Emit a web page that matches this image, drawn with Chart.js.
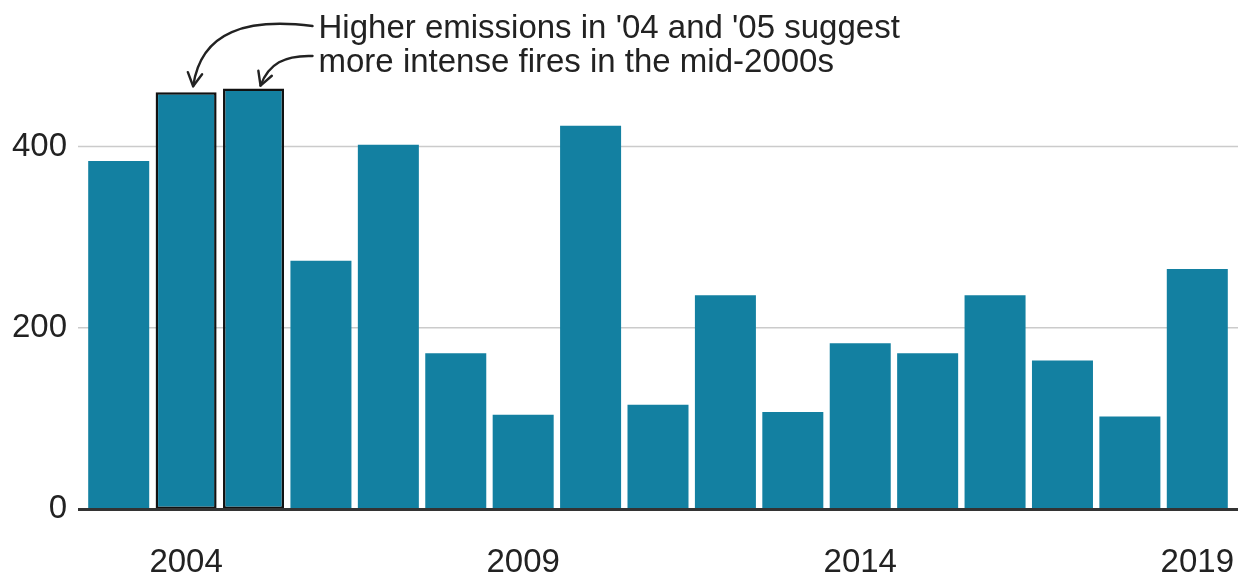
<!DOCTYPE html>
<html>
<head>
<meta charset="utf-8">
<script src="https://cdn.jsdelivr.net/npm/chart.js@4"></script>
<style>
  html, body { margin: 0; padding: 0; background: #ffffff; overflow: hidden; }
  #wrap { width: 1243px; height: 576px; position: relative; }
  canvas { display: block; }
</style>
</head>
<body>
<div id="wrap"><canvas id="chart"></canvas></div>
<script>
const years = ["2003", "2004", "2005", "2006", "2007", "2008", "2009", "2010", "2011",
  "2012", "2013", "2014", "2015", "2016", "2017", "2018", "2019"];
const emissions = [384, 460, 464, 274, 402, 172, 104, 423, 115, 236, 107, 183, 172, 236, 164, 102, 265];
const shownYears = ["2004", "2009", "2014", "2019"];
const highlighted = ["2004", "2005"];
const noteLines = ["Higher emissions in '04 and '05 suggest", "more intense fires in the mid-2000s"];

const FONT = "'Liberation Sans', Arial, Helvetica, sans-serif";
const INK = "#222222";

// gridlines a bit wider than the bars, plus the dark zero line on top
const gridPlugin = {
  id: "bbcGrid",
  beforeDatasetsDraw(chart) {
    const { ctx, chartArea, scales } = chart;
    ctx.save();
    ctx.strokeStyle = "#cbcbcb";
    ctx.lineWidth = 1.5;
    scales.y.ticks.forEach((t) => {
      if (t.value === 0) return;
      const y = scales.y.getPixelForValue(t.value);
      ctx.beginPath();
      ctx.moveTo(chartArea.left - 7, y);
      ctx.lineTo(chartArea.right + 7, y);
      ctx.stroke();
    });
    ctx.restore();
  },
  afterDatasetsDraw(chart) {
    const { ctx, chartArea, scales } = chart;
    const y0 = scales.y.getPixelForValue(0);
    ctx.save();
    ctx.strokeStyle = "#333333";
    ctx.lineWidth = 3;
    ctx.beginPath();
    ctx.moveTo(chartArea.left - 7, y0 + 0.5);
    ctx.lineTo(chartArea.right + 7, y0 + 0.5);
    ctx.stroke();
    ctx.restore();
  },
};

function arrowHead(ctx, x, y, angle) {
  const len = 15;
  const spread = 0.5;
  ctx.beginPath();
  ctx.moveTo(x - len * Math.cos(angle - spread), y - len * Math.sin(angle - spread));
  ctx.lineTo(x, y);
  ctx.lineTo(x - len * Math.cos(angle + spread), y - len * Math.sin(angle + spread));
  ctx.stroke();
}

const notePlugin = {
  id: "note",
  afterDraw(chart) {
    const { ctx, scales } = chart;
    const x1 = scales.x.getPixelForValue(1);
    const x2 = scales.x.getPixelForValue(2);
    const y1 = scales.y.getPixelForValue(emissions[1]);
    const y2 = scales.y.getPixelForValue(emissions[2]);
    const textX = x2 + 65;

    ctx.save();
    ctx.fillStyle = INK;
    ctx.font = "33px " + FONT;
    ctx.textBaseline = "alphabetic";
    ctx.fillText(noteLines[0], textX, 38);
    ctx.fillText(noteLines[1], textX, 72);

    ctx.strokeStyle = INK;
    ctx.lineWidth = 2.4;
    ctx.lineCap = "round";
    ctx.lineJoin = "round";

    // arrow to 2004
    const a1 = { x: x1 + 7, y: y1 - 6 };
    ctx.beginPath();
    ctx.moveTo(textX - 6, 26);
    ctx.bezierCurveTo(textX - 70, 18, a1.x + 8, 30, a1.x, a1.y);
    ctx.stroke();
    arrowHead(ctx, a1.x, a1.y, Math.atan2(a1.y - 30, a1.x - (a1.x + 8)));

    // arrow to 2005
    const a2 = { x: x2 + 7, y: y2 - 3 };
    ctx.beginPath();
    ctx.moveTo(textX - 6, 56);
    ctx.bezierCurveTo(textX - 34, 55, a2.x + 8, 64, a2.x, a2.y);
    ctx.stroke();
    arrowHead(ctx, a2.x, a2.y, Math.atan2(a2.y - 64, a2.x - (a2.x + 8)));
    ctx.restore();
  },
};

new Chart(document.getElementById("chart"), {
  type: "bar",
  data: {
    labels: years,
    datasets: [
      {
        data: emissions,
        backgroundColor: "#1380a1",
        borderColor: "#111111",
        borderWidth: years.map((y) => (highlighted.includes(y) ? 2.5 : 0)),
        borderSkipped: false,
        categoryPercentage: 1,
        barPercentage: 0.905,
      },
    ],
  },
  options: {
    responsive: true,
    maintainAspectRatio: false,
    animation: false,
    devicePixelRatio: 1,
    layout: { padding: { top: 56, right: 12, left: 0, bottom: 0 } },
    scales: {
      x: {
        grid: { display: false, drawTicks: false },
        border: { display: false },
        ticks: {
          autoSkip: false,
          maxRotation: 0,
          padding: 34,
          color: INK,
          font: { family: FONT, size: 33 },
          callback(value) {
            const label = years[value];
            return shownYears.includes(label) ? label : "";
          },
        },
        afterFit(scale) {
          scale.height = 67;
          scale.paddingLeft = 0;
          scale.paddingRight = 0;
        },
      },
      y: {
        min: 0,
        max: 500,
        grid: { display: false, drawTicks: false },
        border: { display: false },
        ticks: {
          stepSize: 200,
          padding: 18,
          color: INK,
          font: { family: FONT, size: 33 },
        },
        afterBuildTicks(scale) {
          scale.ticks = scale.ticks.filter((t) => t.value % 200 === 0);
        },
        afterFit(scale) {
          scale.width = 85;
          scale.paddingTop = 0;
          scale.paddingBottom = 0;
        },
      },
    },
    plugins: {
      legend: { display: false },
      tooltip: { enabled: false },
    },
  },
  plugins: [gridPlugin, notePlugin],
});
</script>
</body>
</html>
